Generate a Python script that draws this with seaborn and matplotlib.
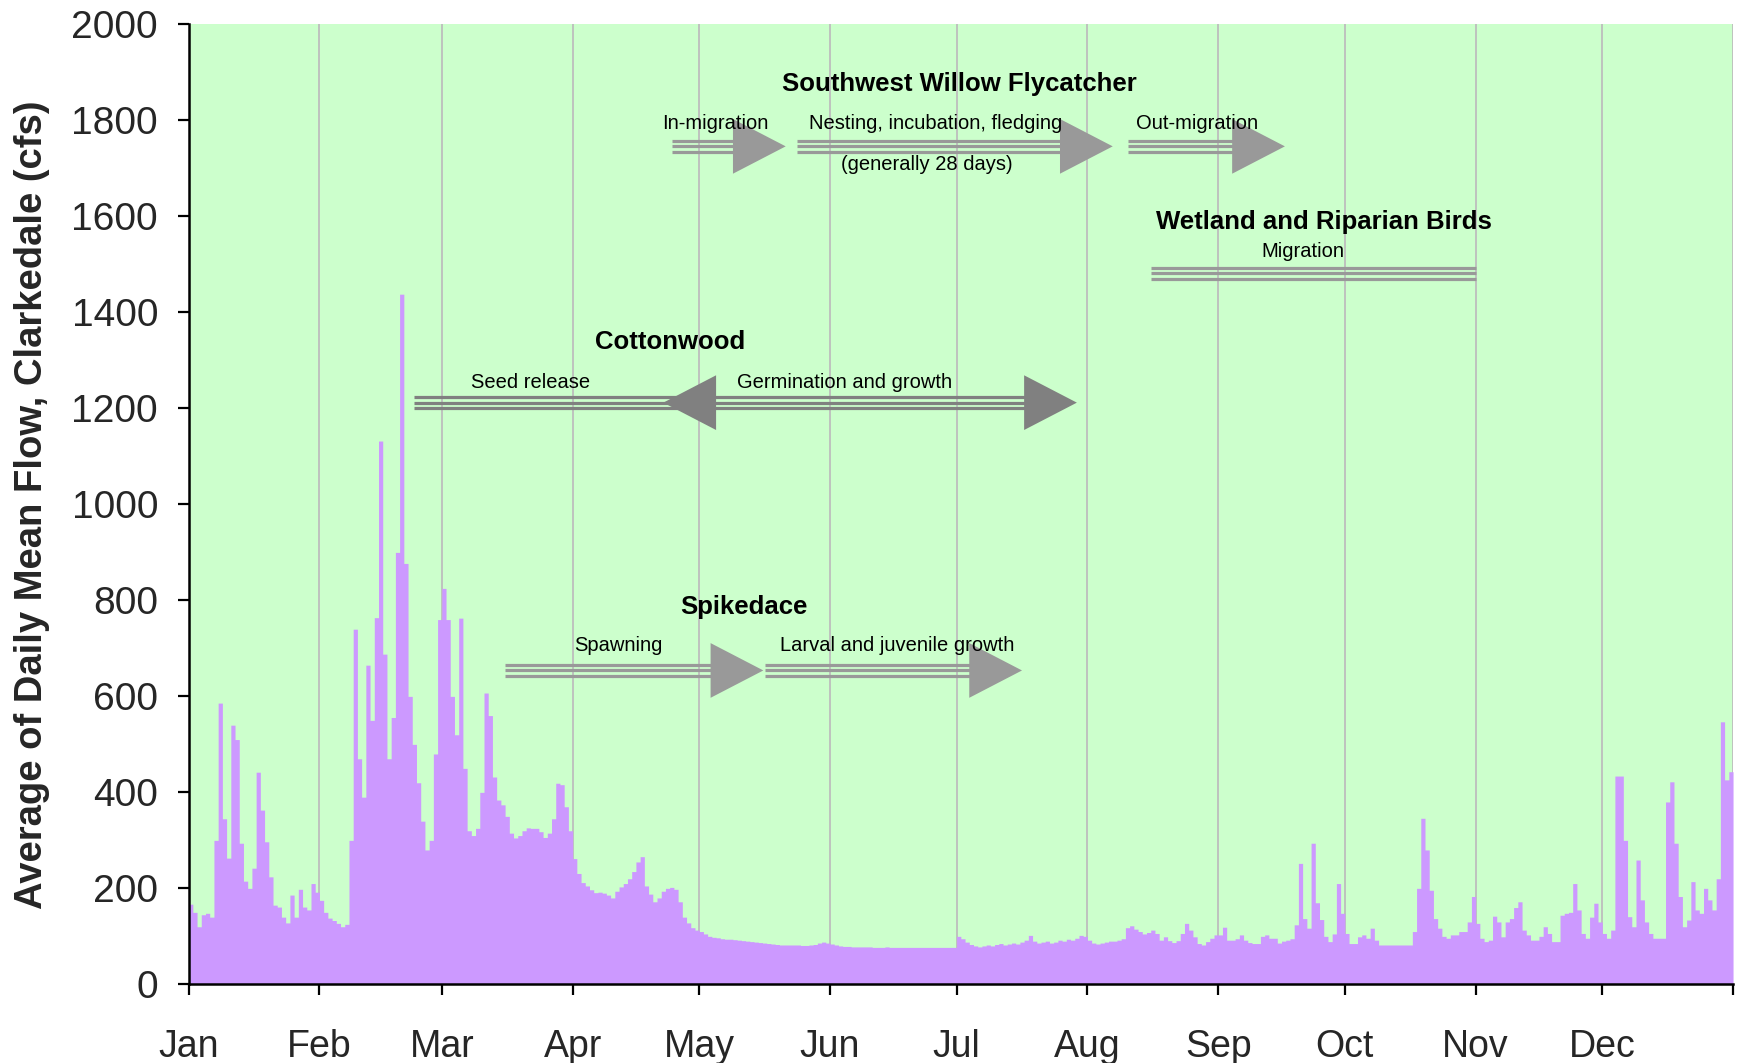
import numpy as np
import pandas as pd
import matplotlib
matplotlib.use("Agg")
import matplotlib.pyplot as plt
import seaborn as sns

# daily flow, cfs (leap year, one list per month)
jan = [167, 150, 120, 145, 148, 140, 300, 586, 345, 263, 540, 510, 294, 215, 200, 242,
       442, 363, 297, 224, 165, 161, 140, 128, 186, 140, 198, 161, 155, 210, 192]
feb = [175, 150, 138, 133, 127, 120, 125, 300, 740, 470, 390, 665, 550, 764, 1132,
       688, 470, 556, 900, 1438, 877, 600, 500, 420, 340, 280, 300, 480, 760]
mar = [825, 760, 600, 520, 763, 450, 320, 310, 325, 400, 607, 560, 432, 384, 374, 350,
       315, 305, 310, 320, 326, 325, 325, 318, 306, 315, 345, 419, 416, 370, 320]
apr = [262, 231, 212, 205, 197, 191, 192, 190, 186, 180, 194, 203, 210, 220, 235,
       255, 266, 205, 188, 172, 180, 194, 200, 202, 198, 172, 140, 128, 118, 113]
may = [110, 105, 100, 98, 97, 95, 94, 94, 93, 92, 91, 90, 89, 88, 87, 86,
       85, 84, 83, 82, 82, 82, 82, 82, 81, 81, 82, 83, 86, 88, 86]
jun = [84, 82, 80, 79, 79, 78, 78, 78, 78, 78, 77, 77, 77, 78, 77,
       77, 77, 77, 77, 77, 77, 77, 77, 77, 77, 77, 77, 77, 77, 77]
jul = [100, 95, 88, 83, 80, 78, 80, 82, 80, 83, 85, 82, 84, 86, 84, 88,
       92, 102, 90, 86, 88, 90, 86, 88, 92, 90, 94, 92, 96, 102, 100]
aug = [92, 86, 84, 86, 88, 90, 90, 92, 95, 118, 122, 115, 110, 105, 108, 113,
       106, 92, 99, 91, 87, 91, 106, 127, 113, 99, 85, 82, 89, 96, 103]
sep = [103, 119, 92, 92, 95, 103, 92, 87, 85, 85, 100, 103, 96, 96, 86,
       90, 92, 95, 124, 252, 137, 117, 294, 170, 135, 100, 89, 105, 210, 148]
oct_ = [106, 85, 85, 99, 103, 96, 117, 92, 82, 82, 82, 82, 82, 82, 82, 82,
        110, 200, 346, 280, 196, 137, 117, 100, 96, 103, 103, 110, 110, 130, 183]
nov = [127, 96, 89, 92, 142, 130, 99, 130, 137, 160, 172, 113, 103, 92, 92,
       100, 120, 106, 89, 89, 144, 148, 150, 210, 155, 106, 96, 140, 169, 130]
dec = [106, 96, 113, 434, 434, 300, 141, 120, 259, 176, 130, 106, 96, 96, 96, 380,
       422, 294, 183, 120, 134, 214, 155, 148, 200, 176, 155, 220, 547, 426, 443]

months = ['Jan', 'Feb', 'Mar', 'Apr', 'May', 'Jun',
          'Jul', 'Aug', 'Sep', 'Oct', 'Nov', 'Dec']
month_days = [31, 29, 31, 30, 31, 30, 31, 31, 30, 31, 30, 31]

# life-stage labels: text, day, flow, bold
labels = [
    ('Southwest Willow Flycatcher', 182.7, 1875, True),
    ('In-migration', 124.9, 1794, False),
    ('Nesting, incubation, fledging', 177.0, 1794, False),
    ('(generally 28 days)', 175.0, 1709, False),
    ('Out-migration', 239.0, 1794, False),
    ('Wetland and Riparian Birds', 269.0, 1588, True),
    ('Migration', 264.0, 1526, False),
    ('Cottonwood', 114.0, 1339, True),
    ('Seed release', 81.0, 1255, False),
    ('Germination and growth', 155.4, 1255, False),
    ('Spikedace', 131.7, 786, True),
    ('Spawning', 101.8, 705, False),
    ('Larval and juvenile growth', 167.8, 705, False),
]

# periods: start day, end day, flow level, heads, colour
periods = [
    (114.6, 141.5, 1746, 'right', '#999999'),
    (144.1, 219.0, 1746, 'right', '#999999'),
    (222.7, 259.8, 1746, 'right', '#999999'),
    (228.0, 305.0, 1482, None, '#999999'),
    (53.5, 118.0, 1212, None, '#808080'),
    (112.5, 210.5, 1212, 'both', '#808080'),
    (74.9, 136.2, 654, 'right', '#999999'),
    (136.7, 197.5, 654, 'right', '#999999'),
]

flow = np.concatenate([jan, feb, mar, apr, may, jun, jul, aug, sep, oct_, nov, dec])
df = pd.DataFrame({'day': np.arange(len(flow)) + 0.5, 'flow': flow})
month_start = np.concatenate([[0], np.cumsum(month_days)])


def period_arrow(ax, x0, x1, y, heads, color, head_len=12.5, half=57, gap=11.5):
    """Three thin parallel lines with optional triangle heads."""
    xs = x0 + head_len * 0.6 if heads == 'both' else x0
    xe = x1 - head_len * 0.6 if heads in ('right', 'both') else x1
    for off in (-gap, 0, gap):
        ax.plot([xs, xe], [y + off, y + off], color=color, lw=2.3,
                solid_capstyle='butt', zorder=4)
    if heads in ('right', 'both'):
        ax.fill([x1 - head_len, x1, x1 - head_len], [y - half, y, y + half],
                color=color, lw=0, zorder=5)
    if heads == 'both':
        ax.fill([x0 + head_len, x0, x0 + head_len], [y - half, y, y + half],
                color=color, lw=0, zorder=5)


sns.set_theme(style='ticks')
plt.rcParams['font.family'] = ['Liberation Sans', 'DejaVu Sans']

fig = plt.figure(figsize=(17.4, 10.63), dpi=100)
ax = fig.add_axes([0.1084, 0.074, 0.8876, 0.903])
ax.set_facecolor('#CCFFCC')

sns.histplot(data=df, x='day', weights='flow', bins=list(range(367)),
             element='step', fill=True, color='#CC99FF', alpha=1,
             linewidth=0, ax=ax, zorder=2)

for x0, x1, y, heads, color in periods:
    period_arrow(ax, x0, x1, y, heads, color)

for text, x, y, bold in labels:
    ax.text(x, y, text, ha='center', va='center', zorder=6,
            fontsize=18.5 if bold else 14.5,
            fontweight='bold' if bold else 'normal', color='black')

ax.set_xlim(0, 366)
ax.set_ylim(0, 2000)
ax.set_xticks(month_start)
ax.set_xticklabels(months + [''])
ax.set_yticks(range(0, 2001, 200))
ax.set_axisbelow(True)
ax.grid(axis='x', color='#BDBDBD', lw=1.3)
ax.grid(axis='y', visible=False)

ax.tick_params(axis='x', direction='out', length=8, width=1.6,
               labelsize=27, pad=24, color='black')
ax.tick_params(axis='y', direction='out', length=8, width=1.6,
               labelsize=28, pad=14, color='black')
for side in ('top', 'right'):
    ax.spines[side].set_visible(False)
for side in ('left', 'bottom'):
    ax.spines[side].set_color('black')
    ax.spines[side].set_linewidth(1.8)

ax.set_xlabel('')
ax.set_ylabel('Average of Daily Mean Flow, Clarkedale (cfs)',
              fontsize=27.5, fontweight='bold')
ax.yaxis.set_label_coords(-0.09, 0.5)

fig.savefig('out.png', dpi=100)
